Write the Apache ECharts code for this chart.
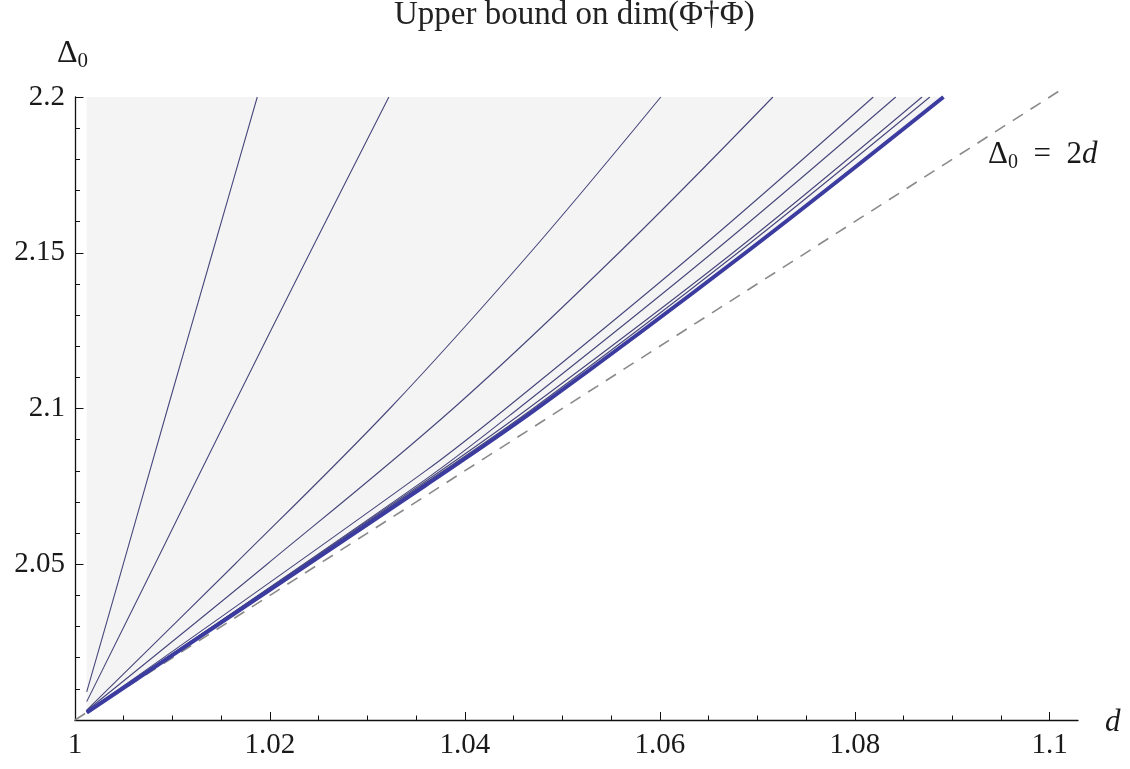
<!DOCTYPE html>
<html><head><meta charset="utf-8">
<script src="https://cdn.jsdelivr.net/npm/echarts@6/dist/echarts.min.js"></script>
<style>html,body{margin:0;padding:0;background:#fff}#c{width:1130px;height:769px}</style>
</head><body><div id="c"></div>
<script>
// ---- data ----
const xMajorTicks = [1, 1.02, 1.04, 1.06, 1.08, 1.1];
const xMinorTicks = [1.005, 1.01, 1.015, 1.025, 1.03, 1.035, 1.045, 1.05, 1.055, 1.065, 1.07, 1.075, 1.085, 1.09, 1.095];
const yTicks = [2.05, 2.1, 2.15, 2.2];

const curve1 = [[1.0012, 2.009], [1.0039, 2.0385], [1.0095, 2.1], [1.0141, 2.15], [1.0187, 2.2]];
const curve2 = [[1.0012, 2.0059], [1.0082, 2.05], [1.0161, 2.1], [1.0241, 2.15], [1.0322, 2.2]];
const curve3 = [[1.0012, 2.0032], [1.0164, 2.05], [1.0323, 2.1], [1.0467, 2.15], [1.0601, 2.2]];
const curve4 = [[1.0012, 2.003], [1.0197, 2.05], [1.0388, 2.1], [1.0558, 2.15], [1.0716, 2.2]];
const curve5 = [[1.0012, 2.0026], [1.0359, 2.0798], [1.0442, 2.1], [1.0636, 2.15], [1.0819, 2.2]];
const curve6 = [[1.0012, 2.0026], [1.0359, 2.0771], [1.0455, 2.1], [1.0654, 2.15], [1.0842, 2.2]];
const curve7 = [[1.0012, 2.0025], [1.0359, 2.0765], [1.0465, 2.1], [1.0675, 2.15], [1.0869, 2.2]];
const curve8 = [[1.0012, 2.0025], [1.0359, 2.0760], [1.0470, 2.1], [1.0680, 2.15], [1.0877, 2.2]];
const boundCurve = [[1.0012, 2.0024], [1.0359, 2.0752], [1.0474, 2.1], [1.0688, 2.15], [1.0891, 2.2]];
const lineTwoD = [[1, 2], [1.1013, 2.2026]];

const thinCurves = [curve1, curve2, curve3, curve4, curve5, curve6, curve7, curve8];

// ---- styles ----
const FONT = "'Liberation Serif', 'DejaVu Serif', serif";
const THIN = '#47477c';
const THICK = '#3c3ca0';
const SMOOTH = 0.35;

const chart = echarts.init(document.getElementById('c'), null, {renderer: 'canvas'});

const fmt = v => String(+(+v).toFixed(3));

const series = [];
series.push({
  type: 'line', data: boundCurve, showSymbol: false, silent: true, z: 1,
  smooth: SMOOTH,
  lineStyle: {width: 0, opacity: 0},
  areaStyle: {color: '#f4f4f4', origin: 'end', opacity: 1}
});
thinCurves.forEach(c => series.push({
  type: 'line', data: c, showSymbol: false, silent: true, z: 3,
  smooth: SMOOTH,
  lineStyle: {color: THIN, width: 1.1}
}));
series.push({
  type: 'line', data: boundCurve, showSymbol: false, silent: true, z: 4,
  smooth: SMOOTH,
  lineStyle: {color: THICK, width: 4}
});
series.push({
  type: 'line', data: lineTwoD, showSymbol: false, silent: true, z: 2, clip: false,
  lineStyle: {color: '#8a8a8a', width: 1.6, type: [12, 9]}
});

chart.setOption({
  animation: false,
  backgroundColor: '#fff',
  title: {
    text: 'Upper bound on dim(\u03A6\u2020\u03A6)',
    left: 394, top: -6, padding: [5, 0, 5, 0],
    textStyle: {fontFamily: FONT, fontSize: 33, fontWeight: 'normal', color: '#222'}
  },
  grid: {left: 75, right: 52, top: 97, bottom: 49, containLabel: false},
  xAxis: [{
    type: 'value', min: 1, max: 1.1029, position: 'bottom',
    axisLine: {show: true, onZero: false, lineStyle: {color: '#111', width: 1.3}},
    axisTick: {show: true, inside: true, length: 8, customValues: xMajorTicks, lineStyle: {color: '#111'}},
    axisLabel: {customValues: xMajorTicks, formatter: fmt, fontFamily: FONT, fontSize: 29, color: '#1a1a1a', margin: 11},
    splitLine: {show: false}
  }, {
    type: 'value', min: 1, max: 1.1029, position: 'bottom', offset: 0,
    axisLine: {show: false},
    axisTick: {show: true, inside: true, length: 4.5, customValues: xMinorTicks, lineStyle: {color: '#111'}},
    axisLabel: {show: false},
    splitLine: {show: false}
  }],
  yAxis: {
    type: 'value', min: 2, max: 2.2, interval: 0.05,
    axisLine: {show: true, onZero: false, lineStyle: {color: '#111', width: 1.3}},
    axisTick: {show: true, inside: true, length: 8.5, lineStyle: {color: '#111'}},
    minorTick: {show: true, splitNumber: 5, length: 5, lineStyle: {color: '#111'}},
    axisLabel: {
      formatter: v => (yTicks.some(t => Math.abs(t - v) < 1e-9) ? fmt(v) : ''),
      fontFamily: FONT, fontSize: 29, color: '#1a1a1a', margin: 10
    },
    splitLine: {show: false}
  },
  graphic: [
    {
      type: 'text', left: 57, top: 38, z: 10,
      style: {
        text: '{a|\u0394}{s|0}',
        rich: {
          a: {fontFamily: FONT, fontSize: 32, lineHeight: 34, verticalAlign: 'top', fill: '#1a1a1a'},
          s: {fontFamily: FONT, fontSize: 21, lineHeight: 20, verticalAlign: 'bottom', fill: '#1a1a1a'}
        }
      }
    },
    {
      type: 'text', left: 988, top: 139, z: 10,
      style: {
        text: '{a|\u0394}{s|0}{a|\u2002=\u20022}{i|d}',
        rich: {
          a: {fontFamily: FONT, fontSize: 31, lineHeight: 34, verticalAlign: 'top', fill: '#1a1a1a'},
          s: {fontFamily: FONT, fontSize: 20, lineHeight: 20, verticalAlign: 'bottom', fill: '#1a1a1a'},
          i: {fontFamily: FONT, fontSize: 31, fontStyle: 'italic', lineHeight: 34, verticalAlign: 'top', fill: '#1a1a1a'}
        }
      }
    },
    {
      type: 'text', left: 1105, top: 707, z: 10,
      style: {text: 'd', fontFamily: FONT, fontSize: 31, fontStyle: 'italic', fill: '#1a1a1a'}
    }
  ],
  series: series
});
</script></body></html>
